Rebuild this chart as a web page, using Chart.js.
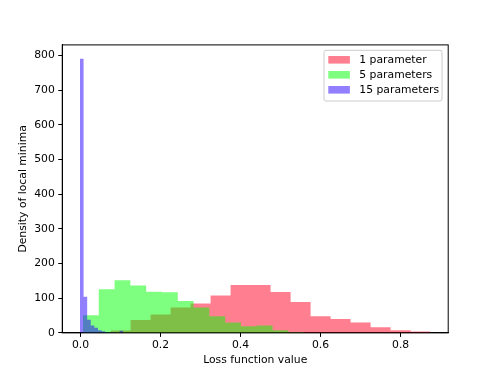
<!DOCTYPE html>
<html lang="en">
<head>
<meta charset="UTF-8">
<title>Loss function histogram</title>
<script src="https://cdn.jsdelivr.net/npm/chart.js@4.4.1/dist/chart.umd.min.js"></script>
<style>
    body { margin: 0; background: #ffffff; }
    #grafico { display: block; }
</style>
</head>
<body>
<canvas id="grafico" width="498" height="374"></canvas>

<script>
    // bin edges (n+1) and heights (n)
    var nomes = ['1 parameter', '5 parameters', '15 parameters'];

    var bordasUm = [0.075, 0.125, 0.175, 0.225, 0.275, 0.325, 0.375, 0.425, 0.475,
        0.525, 0.575, 0.625, 0.675, 0.725, 0.775, 0.825, 0.875];
    var alturasUm = [7, 37, 53, 73, 85, 108, 138, 138, 118, 89, 48, 40, 30, 16, 8, 4];

    var bordasCinco = [0.006, 0.0455, 0.085, 0.1245, 0.164, 0.2035, 0.243, 0.2825,
        0.322, 0.3615, 0.401, 0.4405, 0.48, 0.5195, 0.559];
    var alturasCinco = [51, 126, 152, 137, 119, 117, 92, 73, 48, 30, 19, 21, 8, 2];

    var bordasQuinze = [-0.0015, 0.0075, 0.0165, 0.0255, 0.0345, 0.0435, 0.0525,
        0.0615, 0.0705, 0.0795, 0.0885, 0.0975, 0.1065];
    var alturasQuinze = [791, 104, 38, 21, 15, 8, 5, 2, 1, 1, 0, 6];

    var ticksX = [0.0, 0.2, 0.4, 0.6, 0.8];
    var ticksY = [0, 100, 200, 300, 400, 500, 600, 700, 800];

    var cores = ['rgba(255, 0, 35, 0.5)', 'rgba(0, 255, 0, 0.5)', 'rgba(35, 0, 255, 0.5)'];

    // stepped line: each point holds the height of the bin that starts there
    function pontosHist(bordas, alturas) {
        var pts = [];
        for (var i = 0; i < alturas.length; i++) {
            pts.push({ x: bordas[i], y: alturas[i] });
        }
        pts.push({ x: bordas[bordas.length - 1], y: 0 });
        return pts;
    }

    var fonte = { family: 'DejaVu Sans', size: 10.8 };

    // top/right spines
    const moldura = {
        id: 'moldura',
        afterDraw(chart) {
            const a = chart.chartArea;
            const ctx = chart.ctx;
            ctx.save();
            ctx.strokeStyle = '#000000';
            ctx.lineWidth = 1;
            ctx.strokeRect(a.left, a.top, a.right - a.left, a.bottom - a.top);
            ctx.restore();
        }
    };

    // matplotlib style legend box, upper right
    const legenda = {
        id: 'legenda',
        afterDraw(chart) {
            const ctx = chart.ctx;
            const x0 = 324, y0 = 50.3, w = 118, h = 50.7;
            ctx.save();
            ctx.fillStyle = 'rgba(255, 255, 255, 0.8)';
            ctx.strokeStyle = '#cccccc';
            ctx.lineWidth = 1;
            ctx.beginPath();
            ctx.roundRect(x0, y0, w, h, 2);
            ctx.fill();
            ctx.stroke();
            ctx.font = '10.8px "DejaVu Sans"';
            ctx.textBaseline = 'middle';
            chart.data.datasets.forEach(function (ds, i) {
                const cy = 59.8 + i * 15;
                ctx.fillStyle = ds.backgroundColor;
                ctx.fillRect(328.3, cy - 3.8, 21.6, 7.6);
                ctx.fillStyle = '#000000';
                ctx.fillText(ds.label, 359.3, cy);
            });
            ctx.restore();
        }
    };

    const ctx = document.getElementById('grafico').getContext('2d');
    const grafico = new Chart(ctx, {
        type: 'line',
        data: {
            datasets: [{
                label: nomes[0],
                data: pontosHist(bordasUm, alturasUm),
                backgroundColor: cores[0],
                order: 3
            }, {
                label: nomes[1],
                data: pontosHist(bordasCinco, alturasCinco),
                backgroundColor: cores[1],
                order: 2
            }, {
                label: nomes[2],
                data: pontosHist(bordasQuinze, alturasQuinze),
                backgroundColor: cores[2],
                order: 1
            }]
        },
        options: {
            responsive: false,
            animation: false,
            devicePixelRatio: 1,
            layout: { padding: { left: 0, right: 49.8, top: 44.9, bottom: 0 } },
            elements: {
                line: { stepped: true, fill: 'origin', borderWidth: 0, borderColor: 'transparent', tension: 0 },
                point: { radius: 0, hoverRadius: 0 }
            },
            plugins: {
                legend: { display: false },
                tooltip: { enabled: false }
            },
            scales: {
                x: {
                    type: 'linear',
                    min: -0.0458,
                    max: 0.919,
                    afterBuildTicks: function (s) { s.ticks = ticksX.map(function (v) { return { value: v }; }); },
                    afterFit: function (s) { s.height = 41.1; },
                    grid: { drawOnChartArea: false, drawTicks: true, tickLength: 4, color: '#000000', lineWidth: 1 },
                    border: { display: true, color: '#000000', width: 1 },
                    ticks: {
                        font: fonte, color: '#000000', padding: 2, maxRotation: 0, autoSkip: false,
                        callback: function (v) { return v.toFixed(1); }
                    },
                    title: {
                        display: true, text: 'Loss function value', font: fonte, color: '#000000',
                        padding: { top: 0, bottom: 7.5 }
                    }
                },
                y: {
                    type: 'linear',
                    min: 0,
                    max: 831,
                    afterBuildTicks: function (s) { s.ticks = ticksY.map(function (v) { return { value: v }; }); },
                    afterFit: function (s) { s.width = 62.25; },
                    grid: { drawOnChartArea: false, drawTicks: true, tickLength: 4, color: '#000000', lineWidth: 1 },
                    border: { display: true, color: '#000000', width: 1 },
                    ticks: { font: fonte, color: '#000000', padding: 3.5, autoSkip: false },
                    title: {
                        display: true, text: 'Density of local minima', font: fonte, color: '#000000',
                        padding: { top: 16.5, bottom: 0 }
                    }
                }
            }
        },
        plugins: [moldura, legenda]
    });
</script>
</body>
</html>
